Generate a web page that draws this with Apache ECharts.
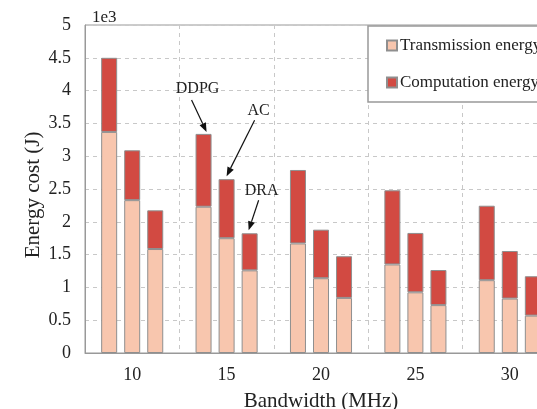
<!DOCTYPE html>
<html>
<head>
<meta charset="utf-8">
<script src="https://cdn.jsdelivr.net/npm/echarts@6/dist/echarts.min.js"></script>
<style>html,body{margin:0;padding:0;background:#fff;overflow:hidden}#c{width:537px;height:409px}</style>
</head>
<body>
<div id="c"></div>
<script>
// Bandwidth categories (MHz)
var categories = ['10', '15', '20', '25', '30'];
// Values in units of 1e3 J
var ddpgTrans = [3.37, 2.23, 1.67, 1.35, 1.11];
var ddpgComp  = [1.13, 1.11, 1.12, 1.13, 1.135];
var acTrans   = [2.33, 1.75, 1.14, 0.925, 0.83];
var acComp    = [0.76, 0.90, 0.74, 0.905, 0.725];
var draTrans  = [1.585, 1.26, 0.84, 0.73, 0.57];
var draComp   = [0.59, 0.565, 0.635, 0.535, 0.60];
var yTicks = [0, 0.5, 1, 1.5, 2, 2.5, 3, 3.5, 4, 4.5, 5];

var FONT = 'Liberation Serif';
var TRANS_COLOR = '#F8C6AE';
var COMP_COLOR = '#D24A42';
var BORDER = '#8f8f8f';

function barSeries(name, stack, data, color) {
  return {
    name: name, type: 'bar', stack: stack, data: data,
    barWidth: 16, barGap: '44%',
    itemStyle: { color: color, borderColor: BORDER, borderWidth: 1 },
    emphasis: { disabled: true }
  };
}

var chart = echarts.init(document.getElementById('c'));
chart.setOption({
  animation: false,
  backgroundColor: '#fff',
  grid: { left: 85, top: 25, bottom: 56, width: 472, outerBoundsMode: 'none', containLabel: false,
          show: true, borderColor: '#999', borderWidth: 1 },
  legend: {
    orient: 'vertical', left: 368, top: 26,
    data: ['Transmission energy', 'Computation energy'],
    itemWidth: 10, itemHeight: 10, itemGap: 20,
    padding: [11, 20, 11, 18],
    borderColor: '#999', borderWidth: 1.5,
    backgroundColor: '#fff',
    icon: 'rect',
    textStyle: { fontFamily: FONT, fontSize: 17, color: '#222', padding: [0, 0, 0, -2] }
  },
  xAxis: {
    type: 'category', data: categories,
    name: 'Bandwidth (MHz)', nameLocation: 'middle', nameGap: 38,
    nameTextStyle: { fontFamily: FONT, fontSize: 21, color: '#222' },
    axisLine: { lineStyle: { color: '#999', width: 1 } },
    axisTick: { show: false },
    axisLabel: { fontFamily: FONT, fontSize: 18, color: '#222', margin: 13 },
    splitLine: { show: true, interval: 0, lineStyle: { color: '#c8c8c8', type: [4, 4] } }
  },
  yAxis: {
    type: 'value', min: 0, max: 5, interval: 0.5,
    name: '1e3', nameLocation: 'end', nameGap: -1,
    nameTextStyle: { fontFamily: FONT, fontSize: 17, color: '#222', align: 'left', padding: [0, 0, 0, 7] },
    axisLine: { show: true, lineStyle: { color: '#999', width: 1 } },
    axisTick: { show: false },
    axisLabel: { fontFamily: FONT, fontSize: 18, color: '#222', margin: 14,
      formatter: function (v) { return yTicks.indexOf(v) >= 0 ? String(v) : ''; } },
    splitLine: { show: true, lineStyle: { color: '#c8c8c8', type: [4, 4] } }
  },
  series: [
    barSeries('Transmission energy', 'DDPG', ddpgTrans, TRANS_COLOR),
    barSeries('Computation energy', 'DDPG', ddpgComp, COMP_COLOR),
    barSeries('Transmission energy', 'AC', acTrans, TRANS_COLOR),
    barSeries('Computation energy', 'AC', acComp, COMP_COLOR),
    barSeries('Transmission energy', 'DRA', draTrans, TRANS_COLOR),
    barSeries('Computation energy', 'DRA', draComp, COMP_COLOR)
  ]
});

// Annotations anchored to the tops of the 15 MHz bars
function barTop(seriesIndex, dataIndex) {
  var data = chart.getModel().getSeriesByIndex(seriesIndex).getData();
  var l = data.getItemLayout(dataIndex);
  var x = l.x + l.width / 2;
  var y = Math.min(l.y, l.y + l.height);
  return [x, y];
}

function arrow(sx, sy, ex, ey) {
  var dx = ex - sx, dy = ey - sy, len = Math.sqrt(dx * dx + dy * dy);
  var ux = dx / len, uy = dy / len;
  var hl = 9, hw = 3.5;
  var bx = ex - ux * hl, by = ey - uy * hl;
  return [
    { type: 'line', shape: { x1: sx, y1: sy, x2: bx, y2: by }, style: { stroke: '#111', lineWidth: 1.2 }, z: 100 },
    { type: 'polygon', shape: { points: [[ex, ey], [bx - uy * hw, by + ux * hw], [bx + uy * hw, by - ux * hw]] }, style: { fill: '#111' }, z: 100 }
  ];
}

function label(text, x, y, size) {
  return { type: 'text', x: x, y: y, z: 100,
    style: { text: text, font: size + 'px "' + FONT + '"', fill: '#222', align: 'center', verticalAlign: 'middle' } };
}

var gfx = [];
var p = barTop(1, 1);
gfx.push(label('DDPG', p[0] - 6, p[1] - 45, 16));
gfx = gfx.concat(arrow(p[0] - 12, p[1] - 34, p[0] + 3, p[1] - 2));
p = barTop(3, 1);
gfx.push(label('AC', p[0] + 32, p[1] - 68, 16));
gfx = gfx.concat(arrow(p[0] + 28, p[1] - 59, p[0], p[1] - 3));
p = barTop(5, 1);
gfx.push(label('DRA', p[0] + 12, p[1] - 42, 16));
gfx = gfx.concat(arrow(p[0] + 9, p[1] - 33, p[0] - 1, p[1] - 3));
gfx.push({ type: 'text', x: 33, y: 195, rotation: Math.PI / 2,
  style: { text: 'Energy cost (J)', font: '21px "' + FONT + '"', fill: '#222', align: 'center', verticalAlign: 'middle' } });

chart.setOption({ graphic: gfx });
</script>
</body>
</html>
